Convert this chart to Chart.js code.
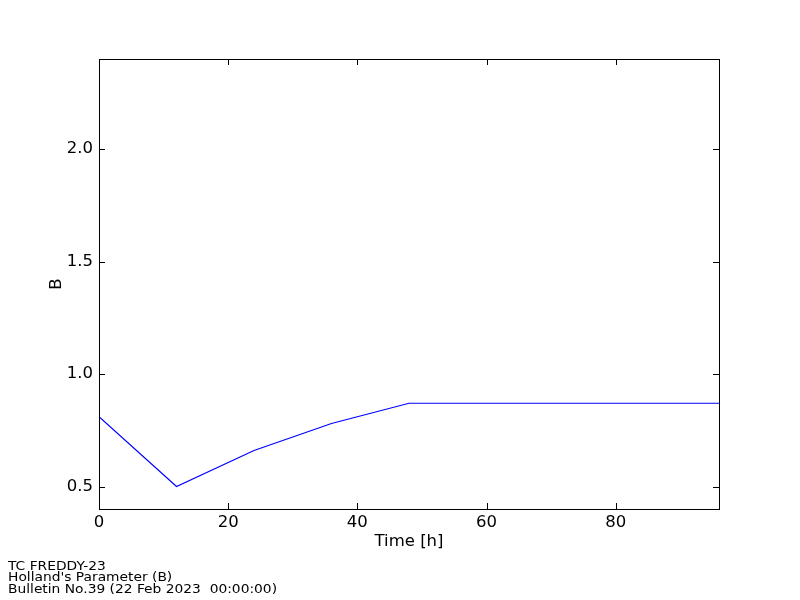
<!DOCTYPE html>
<html>
<head>
<meta charset="utf-8">
<script src="https://cdn.jsdelivr.net/npm/chart.js@4/dist/chart.umd.min.js"></script>
<style>
html,body{margin:0;padding:0;background:#fff;}
#wrap{width:800px;height:600px;position:relative;}
</style>
</head>
<body>
<div id="wrap"><canvas id="c" width="800" height="600"></canvas></div>
<script>
const hours = [0, 12, 24, 36, 48, 60, 72, 84, 96];
const hollandB = [0.81, 0.50, 0.66, 0.78, 0.87, 0.87, 0.87, 0.87, 0.87];
const xTicks = [0, 20, 40, 60, 80];
const yTicks = [0.5, 1.0, 1.5, 2.0];
const xRange = [0, 96];
const yRange = [0.4, 2.4];
const footerLines = ["TC FREDDY-23", "Holland's Parameter (B)", "Bulletin No.39 (22 Feb 2023  00:00:00)"];

const FONT = "'DejaVu Sans', sans-serif";

const framePlugin = {
  id: 'frame',
  afterDraw(chart) {
    const ctx = chart.ctx;
    const a = chart.chartArea;
    const xs = chart.scales.x, ys = chart.scales.y;
    const L = 6;
    ctx.save();
    ctx.strokeStyle = '#000';
    ctx.lineWidth = 1;
    ctx.beginPath();
    xTicks.forEach(v => {
      const px = Math.round(xs.getPixelForValue(v)) + 0.5;
      ctx.moveTo(px, a.bottom); ctx.lineTo(px, a.bottom - L);
      ctx.moveTo(px, a.top); ctx.lineTo(px, a.top + L);
    });
    yTicks.forEach(v => {
      const py = Math.round(ys.getPixelForValue(v)) + 0.5;
      ctx.moveTo(a.left, py); ctx.lineTo(a.left + L, py);
      ctx.moveTo(a.right, py); ctx.lineTo(a.right - L, py);
    });
    ctx.stroke();
    ctx.strokeRect(Math.round(a.left) + 0.5, Math.round(a.top) + 0.5,
                   Math.round(a.right - a.left), Math.round(a.bottom - a.top));
    ctx.fillStyle = '#000';
    ctx.font = "12px " + FONT;
    ctx.textBaseline = 'alphabetic';
    ctx.textAlign = 'left';
    const base = [569.5, 581, 592.5];
    footerLines.forEach((t, i) => {
      ctx.save();
      ctx.translate(8, base[i]);
      ctx.scale(1.15, 1);
      ctx.fillText(t, 0, 0);
      ctx.restore();
    });
    ctx.restore();
  }
};

new Chart(document.getElementById('c'), {
  type: 'line',
  data: {
    labels: hours,
    datasets: [{
      data: hours.map((h, i) => ({x: h, y: hollandB[i]})),
      borderColor: '#0000ff',
      borderWidth: 1.2,
      pointRadius: 0,
      tension: 0,
      fill: false
    }]
  },
  options: {
    responsive: false,
    animation: false,
    devicePixelRatio: 1,
    layout: { padding: { left: 47, top: 59, right: 81, bottom: 48 } },
    plugins: { legend: { display: false }, tooltip: { enabled: false } },
    scales: {
      x: {
        type: 'linear',
        min: xRange[0], max: xRange[1],
        afterBuildTicks: s => { s.ticks = xTicks.map(v => ({value: v})); },
        afterFit: s => { s.height = 43; },
        grid: { display: false, drawTicks: false },
        border: { display: false },
        ticks: { color: '#000', font: { family: FONT, size: 16.5 }, padding: 4, maxRotation: 0,
                 callback: v => String(v) },
        title: { display: true, text: 'Time [h]', color: '#000', font: { family: FONT, size: 16.5 },
                 padding: { top: 1, bottom: 0 } }
      },
      y: {
        type: 'linear',
        min: yRange[0], max: yRange[1],
        afterBuildTicks: s => { s.ticks = yTicks.map(v => ({value: v})); },
        afterFit: s => { s.width = 52; },
        grid: { display: false, drawTicks: false },
        border: { display: false },
        ticks: { color: '#000', font: { family: FONT, size: 16.5 }, padding: 6,
                 callback: v => Number(v).toFixed(1) },
        title: { display: true, text: 'B', color: '#000', font: { family: FONT, size: 16.5 },
                 padding: { top: 0, bottom: 0 } }
      }
    }
  },
  plugins: [framePlugin]
});
</script>
</body>
</html>
